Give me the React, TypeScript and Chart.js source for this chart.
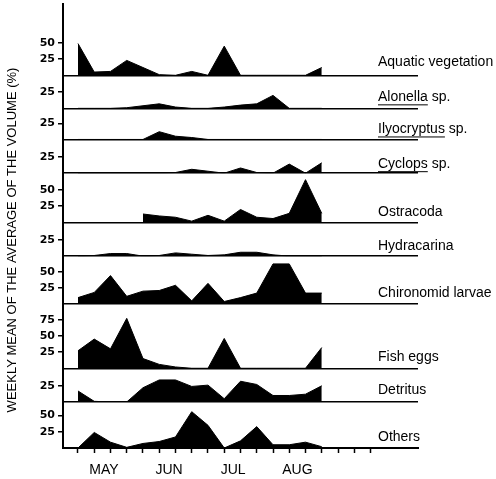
import React, { useEffect, useRef } from 'react';
import { Chart, registerables } from 'chart.js';

Chart.register(...registerables);

// ---- data ----
const WEEKS = [0, 1, 2, 3, 4, 5, 6, 7, 8, 9, 10, 11, 12, 13, 14, 15];
const TICK_WEEKS = [0, 1, 2, 3, 4, 5, 6, 7, 8, 9, 10, 11, 12, 13, 14, 15, 16, 17, 18];
const MONTHS = ['MAY', 'JUN', 'JUL', 'AUG'];
const MONTH_POS = [1.6, 5.6, 9.55, 13.5];

const PANEL_NAMES = [
  'Aquatic vegetation',
  'Alonella sp.',
  'Ilyocryptus sp.',
  'Cyclops sp.',
  'Ostracoda',
  'Hydracarina',
  'Chironomid larvae',
  'Fish eggs',
  'Detritus',
  'Others',
];
const UNDERLINED = ['Alonella', 'Ilyocryptus', 'Cyclops'];
const PANEL_MAX = [110, 51, 48, 52, 76, 52, 74, 99, 52, 71];
const PANEL_TICKS = [[25, 50], [25], [25], [25], [25, 50], [25], [25, 50], [25, 50, 75], [25], [25, 50]];

const aquatic = [49, 5, 6, 23, 12, 1, 0, 6, 0, 45, 0, 0, 0, 0, 0, 12];
const alonella = [0, 0, 0, 1, 4, 7, 2, 0, 0, 2, 5, 7, 20, 0, 0, 0];
const ilyocryptus = [0, 0, 0, 0, 0, 12, 5, 3, 0, 0, 0, 0, 0, 0, 0, 0];
const cyclops = [0, 0, 0, 0, 0, 0, 1, 6, 3, 0, 8, 1, 0, 14, 0, 16];
const ostracoda = [null, null, null, null, 13, 10, 8, 2, 11, 2, 20, 8, 6, 14, 66, 14];
const hydracarina = [0, 1, 4, 4, 0, 1, 5, 3, 1, 2, 6, 6, 2, 0, 0, 0];
const chironomid = [10, 18, 44, 12, 20, 21, 29, 5, 32, 4, 10, 17, 62, 62, 17, 17];
const fishEggs = [27, 45, 30, 77, 15, 6, 2, 0, 0, 46, 0, 0, 0, 0, 0, 32];
const detritus = [17, 1, 0, 0, 22, 34, 34, 24, 26, 5, 32, 27, 10, 10, 12, 25];
const others = [0, 24, 9, 1, 7, 10, 17, 56, 35, 0, 11, 33, 5, 5, 9, 2];

const SERIES = [aquatic, alonella, ilyocryptus, cyclops, ostracoda, hydracarina, chironomid, fishEggs, detritus, others];

const TITLE = 'WEEKLY MEAN OF THE AVERAGE OF THE VOLUME (%)';

// ---- layout / style ----
const LABEL_DY = [-13, -11, -10, -9, -10, -10, -11, -11, -12, -11];
const SANS = "'Liberation Sans', Arial, sans-serif";
const LABEL_FONT = `14px ${SANS}`;

const annotatePlugin = {
  id: 'annotate',
  afterDraw(chart: any) {
    const ctx = chart.ctx;
    const area = chart.chartArea;
    ctx.save();
    ctx.fillStyle = '#000';
    ctx.strokeStyle = '#000';
    ctx.font = LABEL_FONT;
    ctx.textBaseline = 'middle';
    ctx.textAlign = 'left';
    const lx = area.right - 40;
    PANEL_NAMES.forEach((name, i) => {
      const sc = chart.scales['y' + i];
      const y = sc.getPixelForValue(0) + LABEL_DY[i];
      ctx.fillText(name, lx, y);
      const genus = name.split(' ')[0];
      if (UNDERLINED.includes(genus)) {
        const w = ctx.measureText(genus).width;
        ctx.lineWidth = 1;
        ctx.beginPath();
        ctx.moveTo(lx, y + 7.5);
        ctx.lineTo(lx + w, y + 7.5);
        ctx.stroke();
      }
    });
    ctx.translate(12, 240);
    ctx.rotate(-Math.PI / 2);
    ctx.textAlign = 'center';
    ctx.font = `13px ${SANS}`;
    ctx.fillText(TITLE, 0, 0);
    ctx.restore();
  },
};

export default function App() {
  const ref = useRef<HTMLCanvasElement>(null);

  useEffect(() => {
    if (!ref.current) return;
    const xMin = -0.923;
    const xMax = 20.923;

    const scales: any = {
      x: {
        type: 'linear',
        position: 'bottom',
        min: xMin,
        max: xMax,
        afterBuildTicks: (s: any) => {
          s.ticks = TICK_WEEKS.map((v) => ({ value: v }));
        },
        afterFit: (s: any) => {
          s.height = 6;
          s.paddingLeft = 0;
          s.paddingRight = 0;
        },
        ticks: { callback: () => '', autoSkip: false, maxRotation: 0, padding: 0 },
        grid: { drawOnChartArea: false, drawTicks: true, tickLength: 5, tickColor: '#000', tickWidth: 1.5 },
        border: { display: true, color: '#000', width: 2 },
      },
      x2: {
        type: 'linear',
        position: 'bottom',
        min: xMin,
        max: xMax,
        afterBuildTicks: (s: any) => {
          s.ticks = MONTH_POS.map((v) => ({ value: v }));
        },
        afterFit: (s: any) => {
          s.height = 25;
          s.paddingLeft = 0;
          s.paddingRight = 0;
        },
        ticks: {
          callback: (_v: any, idx: number) => MONTHS[idx],
          autoSkip: false,
          maxRotation: 0,
          padding: 0,
          color: '#000',
          font: { family: SANS, size: 14 },
        },
        grid: { display: false },
        border: { display: false },
      },
    };

    for (let i = PANEL_NAMES.length - 1; i >= 0; i--) {
      const tickVals = [0, ...PANEL_TICKS[i]];
      scales['y' + i] = {
        type: 'linear',
        position: 'left',
        stack: 'panels',
        stackWeight: PANEL_MAX[i],
        min: 0,
        max: PANEL_MAX[i],
        afterBuildTicks: (s: any) => {
          s.ticks = tickVals.map((v) => ({ value: v }));
        },
        afterFit: (s: any) => {
          s.width = 63;
          s.paddingTop = 0;
          s.paddingBottom = 0;
        },
        ticks: {
          callback: (v: any) => (v === 0 ? '' : String(v)),
          autoSkip: false,
          color: '#000',
          padding: 3,
          font: { family: "'DejaVu Sans', sans-serif", weight: 'bold', size: 11 },
        },
        grid: {
          color: (c: any) => (c.tick && c.tick.value === 0 ? '#000' : 'rgba(0,0,0,0)'),
          tickColor: (c: any) => (c.tick && c.tick.value === 0 ? 'rgba(0,0,0,0)' : '#000'),
          lineWidth: 1.5,
          tickWidth: 1.5,
          tickLength: 5,
        },
        border: { display: true, color: '#000', width: 2 },
      };
    }

    const datasets = SERIES.map((vals, i) => ({
      label: PANEL_NAMES[i],
      data: vals.map((v, k) => ({ x: WEEKS[k], y: v })),
      xAxisID: 'x',
      yAxisID: 'y' + i,
      fill: 'origin',
      backgroundColor: '#000',
      borderColor: '#000',
      borderWidth: 1,
      pointRadius: 0,
      tension: 0,
      spanGaps: false,
    }));

    const chart = new Chart(ref.current, {
      type: 'line',
      data: { datasets },
      options: {
        animation: false,
        responsive: false,
        devicePixelRatio: 1,
        layout: { padding: { top: 4, right: 78, bottom: 0, left: 0 } },
        plugins: { legend: { display: false }, tooltip: { enabled: false } },
        scales,
      } as any,
      plugins: [annotatePlugin],
    });
    return () => chart.destroy();
  }, []);

  return (
    <div style={{ position: 'fixed', left: 0, top: 0, width: 496, height: 479, background: '#fff' }}>
      <canvas ref={ref} width={496} height={479} style={{ display: 'block' }} />
    </div>
  );
}
